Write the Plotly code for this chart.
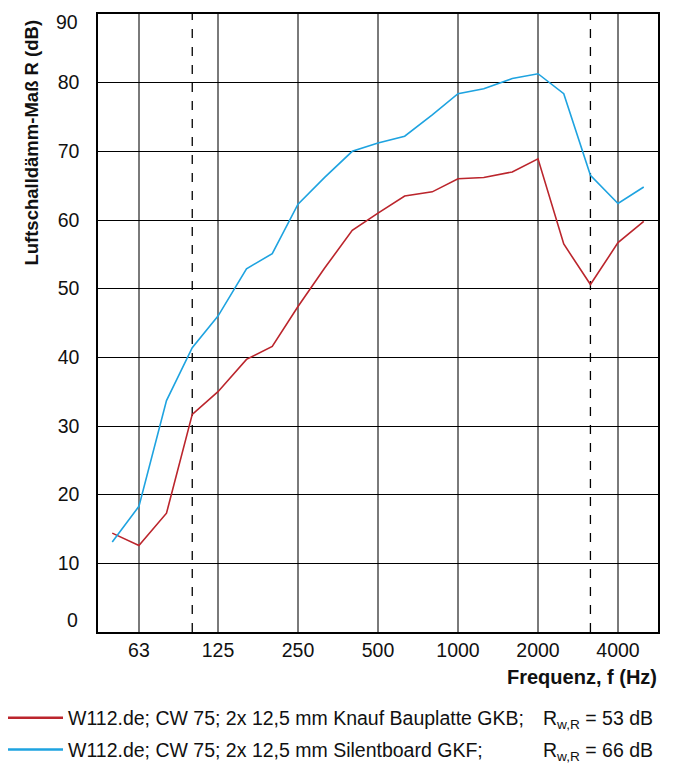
import math
import plotly.graph_objects as go

# Terzbänder (Hz)
freq = [50, 63, 80, 100, 125, 160, 200, 250, 315, 400, 500, 630, 800,
        1000, 1250, 1600, 2000, 2500, 3150, 4000, 5000]

# Luftschalldämm-Maß R (dB)
r_gkb = [14.4, 12.6, 17.3, 31.7, 35.0, 39.7, 41.6, 47.4, 53.0, 58.5, 61.0,
         63.5, 64.1, 66.0, 66.2, 67.0, 68.9, 56.5, 50.6, 56.7, 59.8]
r_gkf = [13.1, 18.3, 33.7, 41.4, 46.0, 52.9, 55.1, 62.3, 66.2, 70.0, 71.2,
         72.2, 75.3, 78.4, 79.1, 80.6, 81.3, 78.4, 66.5, 62.4, 64.8]

x_ticks = [63, 125, 250, 500, 1000, 2000, 4000]
y_ticks = [10, 20, 30, 40, 50, 60, 70, 80]
y_edge_ticks = [0, 90]
dashed_bands = [100, 3150]

names = ["W112.de; CW 75; 2x 12,5 mm Knauf Bauplatte GKB;",
         "W112.de; CW 75; 2x 12,5 mm Silentboard GKF;"]
rw_values = [53, 66]
colors = ["#bb252c", "#1ea3e0"]

FONT = "Liberation Sans, Arial, sans-serif"
# die Seite hat 8px Rand, daher alles um 8px verschoben
OFF = 8
W, H = 685 - OFF, 767 - OFF
L, R, T, B = 98 - OFF, 27, 12 - OFF, 143 - OFF
pw, ph = W - L - R, H - T - B


def px(x):
    return (x - OFF - L) / pw


def py(y):
    return (H - B - (y - OFF)) / ph


fig = go.Figure()
for ys, name, col in zip([r_gkb, r_gkf], names, colors):
    fig.add_trace(go.Scatter(x=freq, y=ys, mode="lines", name=name,
                             line=dict(color=col, width=1.6), showlegend=False))

for f in dashed_bands:
    fig.add_vline(x=f, line=dict(color="black", width=1.3, dash="dash"), layer="below")

# Legende von Hand
for i, (name, rw, col) in enumerate(zip(names, rw_values, colors)):
    yy = 718 + 32 * i
    fig.add_shape(type="line", xref="paper", yref="paper",
                  x0=px(8), x1=px(63), y0=py(yy), y1=py(yy),
                  line=dict(color=col, width=2.5))
    fig.add_annotation(xref="paper", yref="paper", x=px(66), y=py(yy),
                       xanchor="left", yanchor="middle", showarrow=False,
                       text=name, font=dict(size=19.5, color="#111"))
    fig.add_annotation(xref="paper", yref="paper", x=px(541), y=py(yy + 2),
                       xanchor="left", yanchor="middle", showarrow=False,
                       text=f"R<sub>w,R</sub> = {rw} dB", font=dict(size=19.5, color="#111"))

# Achsentitel
fig.add_annotation(xref="paper", yref="paper", x=px(32), y=py(141),
                   xanchor="center", yanchor="middle", showarrow=False, textangle=-90,
                   text="<b>Luftschalldämm-Maß R (dB)</b>", font=dict(size=18.5, color="#111"))
fig.add_annotation(xref="paper", yref="paper", x=px(659), y=py(677),
                   xanchor="right", yanchor="middle", showarrow=False,
                   text="<b>Frequenz, f (Hz)</b>", font=dict(size=20, color="#111"))

# 0 und 90 etwas verschoben wie im Original
for v, shift in zip(y_edge_ticks, [12, -8]):
    fig.add_annotation(xref="paper", yref="y", x=px(80), y=v, yshift=shift,
                       xanchor="right", yanchor="middle", showarrow=False,
                       text=str(v), font=dict(size=19.5, color="#111"))

lo = 1000 * 2 ** -4.5
hi = 1000 * 2 ** 2.5

fig.update_xaxes(type="log", range=[math.log10(lo), math.log10(hi)],
                 tickvals=x_ticks, ticktext=[str(v) for v in x_ticks],
                 showgrid=True, gridcolor="#7a7a7a", gridwidth=2,
                 showline=True, linecolor="black", linewidth=1.5, mirror=True,
                 ticks="", ticklabelstandoff=0, zeroline=False,
                 tickfont=dict(size=19.5, color="#111"))
fig.update_yaxes(range=[0, 90], tickvals=y_ticks,
                 showgrid=True, gridcolor="black", gridwidth=1.3,
                 showline=True, linecolor="black", linewidth=1.5, mirror=True,
                 ticks="", ticklabelstandoff=13, zeroline=False,
                 tickfont=dict(size=19.5, color="#111"))

fig.update_layout(width=W, height=H, margin=dict(l=L, r=R, t=T, b=B),
                  plot_bgcolor="white", paper_bgcolor="white",
                  font=dict(family=FONT, color="#111"))

fig.write_html("out.html")
